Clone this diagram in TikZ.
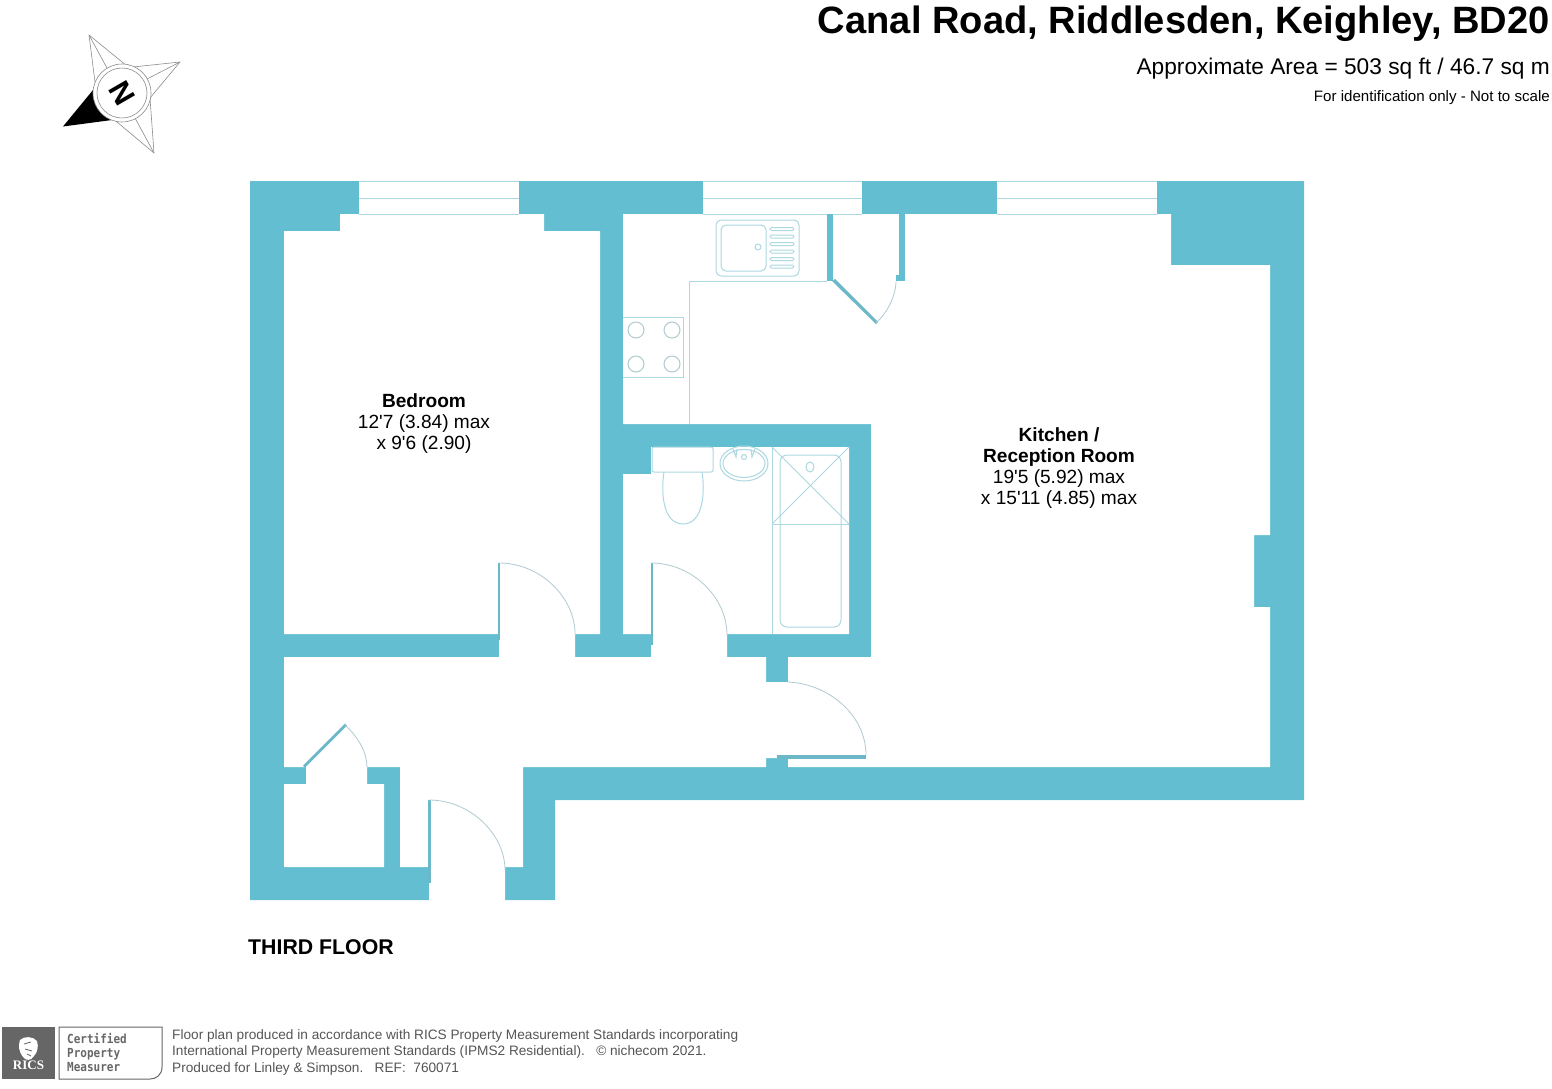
\documentclass[tikz,border=0pt]{standalone}
\usepackage{fontspec}
\setmainfont{Liberation Sans}
\newfontfamily\plainf{Liberation Sans}
\newfontfamily\monof{DejaVu Sans Mono}
\newfontfamily\serf{Liberation Serif}
\definecolor{wallc}{HTML}{64BED1}
\definecolor{leafc}{HTML}{6DB8C8}
\definecolor{fixc}{HTML}{ACD8E1}
\definecolor{arcc}{HTML}{B0CAD0}
\definecolor{footc}{HTML}{555555}
\definecolor{logoc}{HTML}{666666}
\tikzset{
 wall/.style={fill=wallc,draw=none},
 room/.style={fill=white,draw=none},
 fixture/.style={draw=fixc,line width=1pt,fill=none},
 swing/.style={draw=arcc,line width=0.8pt},
 leaf/.style={fill=leafc,draw=none},
 star/.style={draw=black!45,line width=0.6pt,line join=round},
 lab/.style={inner sep=0pt,align=center,font=\plainf\fontsize{19.1}{21.2}\selectfont},
 foot/.style={inner sep=0pt,anchor=west,text=footc,font=\fontsize{13.65}{15}\selectfont},
}
\begin{document}
\begin{tikzpicture}[x=1pt,y=-1pt]
\useasboundingbox (0,0) rectangle (1552,1088);
% walls
\fill[wall] (250,181)--(1304,181)--(1304,800)--(555,800)--(555,900)--(250,900)--cycle;
% rooms (one connected white area)
\fill[room] (623,214)--(1171,214)--(1171,265)--(1270,265)--(1270,535)--(1254,535)--(1254,607)--(1270,607)--(1270,767)
 --(788,767)--(788,758)--(766,758)--(766,767)--(523,767)--(523,867)--(505,867)--(505,901)--(429,901)--(429,867)--(400,867)
 --(400,767)--(367,767)--(367,784)--(384,784)--(384,867)--(284,867)--(284,784)--(306,784)--(306,767)--(284,767)--(284,657)
 --(499,657)--(499,634)--(284,634)--(284,231)--(340,231)--(340,214)--(544,214)--(544,231)--(600,231)--(600,634)--(575,634)
 --(575,657)--(651,657)--(651,634)--(623,634)--(623,474)--(651,474)--(651,447)--(849,447)--(849,634)--(727,634)--(727,657)
 --(766,657)--(766,682)--(788,682)--(788,657)--(871,657)--(871,424)--(623,424)--cycle;
% windows
\foreach \a/\b in {359/519,703/862,997/1157}{
 \fill[room] (\a,181) rectangle (\b,214);
 \draw[fixture] (\a,181.5)--(\b,181.5) (\a,198)--(\b,198) (\a,214)--(\b,214);
}
% kitchen fittings
\draw[fixture] (827,281)--(689,281)--(689,424);
\draw[fixture] (623,317)--(683,317)--(683,377)--(623,377);
\foreach \x/\y in {636/330,672/330,636/364,672/364}{\draw[fixture,draw=arcc] (\x,\y) circle (8);}
\draw[fixture,rounded corners=5pt] (716,220) rectangle (799,276);
\draw[fixture,rounded corners=5pt] (721,225) rectangle (766,271);
\draw[fixture] (758,247) circle (3);
\foreach \y in {229,236.5,244,251.5,259,266.5}{\draw[fixture,rounded corners=1.5pt] (770,\y-1.5) rectangle (794,\y+1.5);}
% kitchen cupboard
\fill[wall] (827,214) rectangle (833,281);
\fill[wall] (899,214) rectangle (905,281);
\fill[wall] (896,275) rectangle (905,281);
\fill[leaf] (832,281)--(835,279)--(878,322)--(876,324)--cycle;
\draw[swing] (876,323) .. controls (886,314) and (896,297) .. (896,281);
% bathroom fittings
\draw[fixture,rounded corners=2pt] (652,447) rectangle (713,472);
\draw[fixture] (664,472) .. controls (661,490) and (662,524) .. (683,524) .. controls (704,524) and (705,490) .. (702,472);
\draw[fixture] (744,463.5) ellipse (24 and 17.5);
\draw[fixture] (744,463.5) ellipse (21 and 14);
\draw[fixture] (744,457) circle (2.5);
\draw[fixture] (733,449)--(736,457)--(737,449) (751,449)--(752,457)--(755,449);
\draw[fixture] (772,447)--(772,634);
\draw[fixture] (772,524)--(849,524);
\draw[fixture] (772,524)--(849,447) (772,447)--(849,524);
\draw[fixture,rounded corners=7pt] (780,455) rectangle (841,627);
\draw[fixture] (810,467) ellipse (4 and 5);
% doors
\fill[leaf] (497.5,563) rectangle (500,640);
\draw[swing] (499,563) .. controls (540,563) and (575,597) .. (575,634);
\fill[leaf] (650.5,563) rectangle (653,645);
\draw[swing] (651,563) .. controls (692,563) and (727,597) .. (727,635);
\fill[leaf] (428,800) rectangle (431,883);
\draw[swing] (429,800) .. controls (470,800) and (505,834) .. (505,870);
\fill[leaf] (303,765.5)--(345,723.5)--(347,725.5)--(305,767.5)--cycle;
\draw[swing] (345,725) .. controls (358,737) and (367,752) .. (367,767);
\fill[leaf] (777,755) rectangle (866,759);
\draw[swing] (788,682) .. controls (830,684) and (866,716) .. (866,755);
% labels
\node[lab] (bedroom) at (424,423.5) {\textbf{Bedroom}\\12'7 (3.84) max\\x 9'6 (2.90)};
\node[lab] (kitchen) at (1059,468) {\textbf{Kitchen /}\\\textbf{Reception Room}\\19'5 (5.92) max\\x 15'11 (4.85) max};
\node[inner sep=0pt,anchor=west,font=\bfseries\fontsize{21.3}{25}\selectfont] (floor) at (248,947) {THIRD FLOOR};
% titles
\node[inner sep=0pt,anchor=east,font=\bfseries\fontsize{38.1}{40}\selectfont] (title) at (1550,24) {Canal Road, Riddlesden, Keighley, BD20};
\node[inner sep=0pt,anchor=east,font=\fontsize{22.7}{26}\selectfont] (area) at (1550,69) {Approximate Area = 503 sq ft / 46.7 sq m};
\node[inner sep=0pt,anchor=east,font=\fontsize{15.1}{17}\selectfont] (note) at (1550,97.5) {For identification only - Not to scale};
% compass
\draw[star,fill=white] (89,35)--(95,82)--(127,66)--cycle;
\draw[star] (89,35)--(107,68);
\draw[star,fill=white] (180,62)--(133,67)--(150,98)--cycle;
\draw[star] (180,62)--(147,79);
\draw[star,fill=white] (154,153)--(150,98)--(117,122)--cycle;
\draw[star] (154,153)--(135,118);
\fill[black] (63,126.5)--(93,90)--(112,120)--cycle;
\draw[draw=black!45,line width=0.6pt,fill=white] (122,93) circle (29);
\draw[draw=black!45,line width=0.6pt] (122,93) circle (25);
\node[inner sep=0pt,rotate=120,font=\bfseries\fontsize{30}{30}\selectfont] (north) at (122,93.5) {N};
% footer
\fill[logoc] (2,1027) rectangle (55,1079);
\fill[white] (20,1040) .. controls (24,1036) and (33,1036) .. (37,1041) .. controls (39,1047) and (37,1053) .. (34,1056)
  .. controls (31,1061) and (26,1061) .. (23,1057) .. controls (19,1052) and (18,1046) .. (20,1040) -- cycle;
\draw[logoc,line width=0.8pt] (24,1044)--(31,1042) (25,1049)--(32,1051) (27,1054)--(31,1056);
\node[inner sep=0pt,text=white,font=\serf\bfseries\fontsize{13}{15}\selectfont] (rics) at (28.5,1065.5) {RICS};
\draw[draw=logoc,line width=1pt] (59,1027)--(162,1027)--(162,1067) .. controls (162,1075) and (156,1079) .. (150,1079)--(59,1079)--cycle;
\node[inner sep=0pt,anchor=north west,text=logoc] (rpm) at (67,1033) {\scalebox{0.88}[1]{\monof\bfseries\fontsize{12.5}{14.2}\selectfont\begin{tabular}{@{}l@{}}Certified\\Property\\Measurer\end{tabular}}};
\node[foot] (f1) at (172,1036) {Floor plan produced in accordance with RICS Property Measurement Standards incorporating};
\node[foot] (f2) at (172,1052) {International Property Measurement Standards (IPMS2 Residential).\ \ \ © nichecom 2021.};
\node[foot] (f3) at (172,1068.5) {Produced for Linley \& Simpson.\ \ \ REF:\ \ 760071};
\end{tikzpicture}
\end{document}
